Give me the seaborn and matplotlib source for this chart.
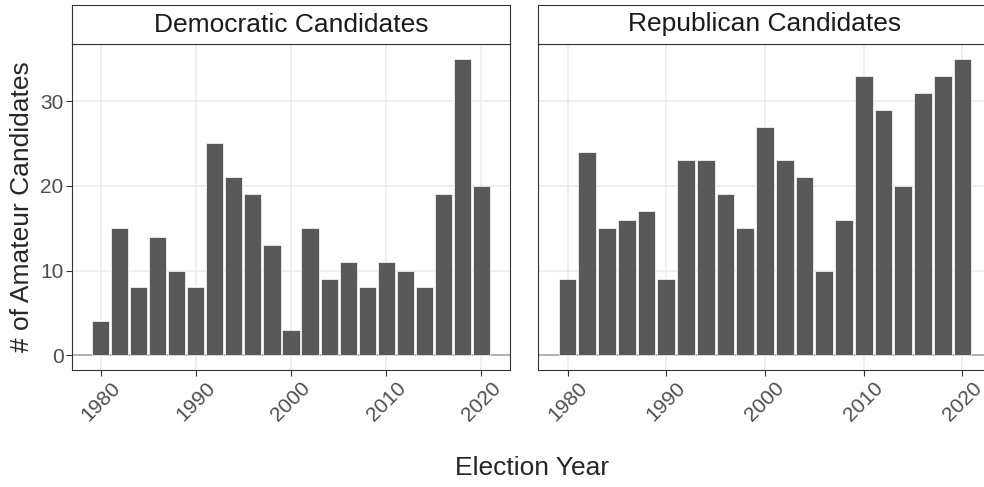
import matplotlib
matplotlib.use("Agg")
import matplotlib.pyplot as plt
import pandas as pd
import seaborn as sns

# Election years and counts of amateur candidates per party
years = [1980, 1982, 1984, 1986, 1988, 1990, 1992, 1994, 1996, 1998, 2000,
         2002, 2004, 2006, 2008, 2010, 2012, 2014, 2016, 2018, 2020]
dem_counts = [4, 15, 8, 14, 10, 8, 25, 21, 19, 13, 3,
              15, 9, 11, 8, 11, 10, 8, 19, 35, 20]
rep_counts = [9, 24, 15, 16, 17, 9, 23, 23, 19, 15, 27,
              23, 21, 10, 16, 33, 29, 20, 31, 33, 35]
panel_titles = ["Democratic Candidates", "Republican Candidates"]
x_ticks = [1980, 1990, 2000, 2010, 2020]
y_ticks = [0, 10, 20, 30]
x_label = "Election Year"
y_label = "# of Amateur Candidates"

frames = [
    pd.DataFrame({"year": years, "count": dem_counts}),
    pd.DataFrame({"year": years, "count": rep_counts}),
]

sns.set_style("white")
plt.rcParams["font.family"] = ["Liberation Sans", "DejaVu Sans"]

W, H = 984, 487
fig = plt.figure(figsize=(W / 100, H / 100), dpi=100)


def px_axes(x0, x1, ytop, ybot):
    return fig.add_axes([x0 / W, (H - ybot) / H, (x1 - x0) / W, (ybot - ytop) / H])


border = "#333333"
panels = [(72, 510), (538, 992)]

for i, ((x0, x1), df, title) in enumerate(zip(panels, frames, panel_titles)):
    ax = px_axes(x0, x1, 44, 370)
    sns.barplot(data=df, x="year", y="count", native_scale=True, width=0.9,
                color="#595959", saturation=1, edgecolor="white", linewidth=0.5,
                errorbar=None, ax=ax, zorder=2)
    ax.axhline(0, color="#a0a0a0", lw=1.1, zorder=1.5)
    ax.set_xlim(1977.0, 2023.0)
    ax.set_ylim(-1.75, 36.75)
    ax.set_xticks(x_ticks)
    ax.set_xticklabels([str(t) for t in x_ticks], rotation=45)
    ax.set_yticks(y_ticks)
    ax.grid(True, color="#EBEBEB", lw=1.1)
    ax.set_axisbelow(True)
    ax.set_xlabel("")
    ax.set_ylabel("")
    for sp in ax.spines.values():
        sp.set_color(border)
        sp.set_linewidth(0.8)
    ax.tick_params(length=4, width=0.8, color=border, labelsize=15,
                   labelcolor="#4D4D4D", pad=2)
    ax.tick_params(axis="x", bottom=True)
    ax.tick_params(axis="y", left=(i == 0), labelleft=(i == 0))

    strip = px_axes(x0, x1, 5, 44)
    strip.set_facecolor("white")
    strip.set_xticks([])
    strip.set_yticks([])
    for sp in strip.spines.values():
        sp.set_color(border)
        sp.set_linewidth(0.8)
    strip.text(0.5, 0.5, title, transform=strip.transAxes, ha="center",
               va="center", fontsize=19, color="#1A1A1A")

fig.text(532 / W, 1 - 468 / H, x_label, ha="center", va="center", fontsize=19)
fig.text(22 / W, 1 - 207 / H, y_label, ha="center", va="center",
         rotation=90, fontsize=19)

fig.savefig("out.png", dpi=100)
